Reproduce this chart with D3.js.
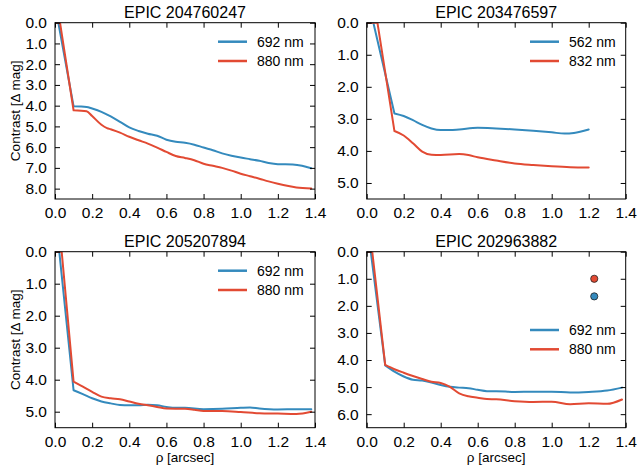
<!DOCTYPE html>
<html><head><meta charset="utf-8">
<script src="https://cdn.jsdelivr.net/npm/d3@7/dist/d3.min.js"></script>
<style>body{margin:0;background:#fff}svg{display:block}text{font-family:"Liberation Sans",Arial,Helvetica,sans-serif;fill:#000}</style>
</head><body><svg id="c" width="639" height="470"></svg>
<script>
const titles = ["EPIC 204760247", "EPIC 203476597", "EPIC 205207894", "EPIC 202963882"];
const legendLabels = [["692 nm","880 nm"],["562 nm","832 nm"],["692 nm","880 nm"],["692 nm","880 nm"]];
const yMax = [8.5, 5.5, 5.5, 6.5];
const yTicks = [[0,1,2,3,4,5,6,7,8],[0,1,2,3,4,5],[0,1,2,3,4,5],[0,1,2,3,4,5,6]];
const xTicks = [0,0.2,0.4,0.6,0.8,1.0,1.2,1.4];

const p1Blue = [[0,0],[0.018,0],[0.10,4.03],[0.17,4.06],[0.2,4.14],[0.25,4.3],[0.3,4.52],[0.35,4.78],[0.4,5.05],[0.45,5.22],[0.5,5.35],[0.55,5.45],[0.6,5.64],[0.65,5.74],[0.7,5.79],[0.75,5.88],[0.8,6.02],[0.85,6.15],[0.9,6.3],[0.95,6.41],[1.0,6.5],[1.05,6.58],[1.1,6.66],[1.15,6.76],[1.2,6.82],[1.28,6.84],[1.33,6.9],[1.38,7.02]];
const p1Red = [[0,0],[0.027,0],[0.10,4.22],[0.17,4.27],[0.2,4.5],[0.25,4.92],[0.28,5.08],[0.3,5.14],[0.35,5.3],[0.4,5.5],[0.45,5.67],[0.5,5.83],[0.55,6.02],[0.6,6.23],[0.65,6.43],[0.7,6.52],[0.75,6.63],[0.8,6.8],[0.85,6.9],[0.9,7.0],[0.95,7.13],[1.0,7.28],[1.05,7.4],[1.1,7.52],[1.15,7.65],[1.2,7.76],[1.25,7.86],[1.3,7.94],[1.38,7.99]];
const p2Blue = [[0,0],[0.036,0],[0.15,2.83],[0.2,2.91],[0.25,3.04],[0.3,3.19],[0.35,3.3],[0.4,3.35],[0.45,3.35],[0.5,3.33],[0.6,3.28],[0.7,3.3],[0.8,3.33],[0.9,3.37],[1.0,3.42],[1.07,3.46],[1.12,3.44],[1.2,3.33]];
const p2Red = [[0,0],[0.058,0],[0.15,3.38],[0.2,3.52],[0.25,3.76],[0.3,4.02],[0.35,4.12],[0.4,4.13],[0.5,4.1],[0.55,4.13],[0.6,4.2],[0.7,4.3],[0.8,4.39],[0.9,4.44],[1.0,4.48],[1.1,4.51],[1.2,4.52]];
const p3Blue = [[0,0],[0.023,0],[0.10,4.33],[0.15,4.45],[0.2,4.58],[0.25,4.68],[0.3,4.74],[0.35,4.79],[0.4,4.8],[0.45,4.8],[0.5,4.78],[0.55,4.8],[0.6,4.85],[0.65,4.88],[0.7,4.88],[0.8,4.92],[0.9,4.91],[1.0,4.88],[1.05,4.87],[1.1,4.9],[1.2,4.93],[1.3,4.92],[1.38,4.92]];
const p3Red = [[0,0],[0.036,0],[0.10,4.06],[0.15,4.22],[0.2,4.38],[0.25,4.53],[0.3,4.58],[0.35,4.61],[0.4,4.68],[0.45,4.75],[0.5,4.8],[0.55,4.85],[0.6,4.9],[0.7,4.91],[0.75,4.94],[0.8,4.98],[0.9,4.98],[1.0,5.01],[1.1,5.05],[1.2,5.06],[1.3,5.07],[1.38,5.0]];
const p4Blue = [[0,0],[0.022,0],[0.10,4.2],[0.15,4.43],[0.2,4.61],[0.25,4.73],[0.3,4.76],[0.35,4.83],[0.4,4.92],[0.45,4.99],[0.5,5.02],[0.55,5.04],[0.6,5.1],[0.65,5.15],[0.7,5.15],[0.8,5.18],[0.9,5.17],[1.0,5.17],[1.1,5.2],[1.2,5.18],[1.3,5.13],[1.38,5.02]];
const p4Red = [[0,0],[0.03,0],[0.10,4.18],[0.15,4.34],[0.2,4.47],[0.25,4.59],[0.3,4.7],[0.35,4.8],[0.4,4.85],[0.45,4.99],[0.5,5.23],[0.55,5.34],[0.6,5.39],[0.65,5.44],[0.7,5.45],[0.8,5.52],[0.9,5.55],[1.0,5.54],[1.1,5.63],[1.2,5.6],[1.3,5.62],[1.38,5.46]];
const p4Dots = [[1.23,1.0,"red"],[1.23,1.65,"blue"]];

const seriesBlue = [p1Blue, p2Blue, p3Blue, p4Blue];
const seriesRed = [p1Red, p2Red, p3Red, p4Red];
const colors = {blue:"#348ABD", red:"#E24A33"};

const boxes = [
  {l:55, r:315, t:22.7, b:199},
  {l:366.7, r:625.7, t:22.7, b:199},
  {l:55, r:315, t:251.7, b:427.7},
  {l:366.7, r:625.7, t:251.7, b:427.7}
];
const legendPos = [{x:218,y:41.7},{x:530,y:41.7},{x:218,y:270.7},{x:530,y:330}];

const svg = d3.select("#c");
const defs = svg.append("defs");

boxes.forEach((bx,i)=>{
  const x = d3.scaleLinear().domain([0,1.4]).range([bx.l,bx.r]);
  const y = d3.scaleLinear().domain([0,yMax[i]]).range([bx.t,bx.b]);
  const g = svg.append("g");
  defs.append("clipPath").attr("id","clip"+i).append("rect")
    .attr("x",bx.l).attr("y",bx.t).attr("width",bx.r-bx.l).attr("height",bx.b-bx.t);

  const lin = d3.line().x(d=>x(d[0])).y(d=>y(d[1]));
  const smooth = d3.line().x(d=>x(d[0])).y(d=>y(d[1])).curve(d3.curveMonotoneX);
  // steep drop (first 3 points) drawn straight, the rest smooth from the kink on
  const pathD = s => lin(s.slice(0,3)) + smooth(s.slice(2));
  const pg = g.append("g").attr("clip-path","url(#clip"+i+")");
  [[seriesBlue[i],"blue"],[seriesRed[i],"red"]].forEach(([s,c])=>{
    pg.append("path").attr("d",pathD(s)).attr("fill","none").attr("stroke",colors[c])
      .attr("stroke-width",2).attr("stroke-linejoin","round").attr("stroke-linecap","round");
  });
  if(i===3){
    pg.selectAll("circle").data(p4Dots).enter().append("circle")
      .attr("cx",d=>x(d[0])).attr("cy",d=>y(d[1])).attr("r",3.6)
      .attr("fill",d=>colors[d[2]]).attr("stroke","#222").attr("stroke-width",0.8);
  }

  // axes
  const fs = "15.5px";
  const xb = g.append("g").attr("transform",`translate(0,${bx.b})`)
    .call(d3.axisBottom(x).tickValues(xTicks).tickFormat(d3.format(".1f")).tickSizeInner(-5).tickSizeOuter(0).tickPadding(8));
  const xt = g.append("g").attr("transform",`translate(0,${bx.t})`)
    .call(d3.axisTop(x).tickValues(xTicks).tickFormat("").tickSizeInner(-5).tickSizeOuter(0));
  const yl = g.append("g").attr("transform",`translate(${bx.l},0)`)
    .call(d3.axisLeft(y).tickValues(yTicks[i]).tickFormat(d3.format(".1f")).tickSizeInner(-5).tickSizeOuter(0).tickPadding(8));
  const yr = g.append("g").attr("transform",`translate(${bx.r},0)`)
    .call(d3.axisRight(y).tickValues(yTicks[i]).tickFormat("").tickSizeInner(-5).tickSizeOuter(0));
  [xb,xt,yl,yr].forEach(a=>{
    a.select(".domain").remove();
    a.selectAll("line").attr("stroke","#000").attr("stroke-width",1);
    a.selectAll("text").style("font-size",fs).style("font-family",'"Liberation Sans",Arial,sans-serif');
  });
  g.append("rect").attr("x",bx.l).attr("y",bx.t).attr("width",bx.r-bx.l).attr("height",bx.b-bx.t)
    .attr("fill","none").attr("stroke","#000").attr("stroke-width",1);

  // title
  g.append("text").attr("x",(bx.l+bx.r)/2).attr("y",bx.t-5).attr("text-anchor","middle")
    .style("font-size","16px").text(titles[i]);

  // legend
  const lp = legendPos[i];
  [["blue",0],["red",1]].forEach(([c,k])=>{
    const yy = lp.y + k*19.3;
    g.append("line").attr("x1",lp.x).attr("x2",lp.x+29).attr("y1",yy).attr("y2",yy)
      .attr("stroke",colors[c]).attr("stroke-width",2.5);
    g.append("text").attr("x",lp.x+39).attr("y",yy).attr("dy","0.35em")
      .style("font-size","14px").text(legendLabels[i][k]);
  });

  if(i%2===0){
    g.append("text").attr("transform",`translate(15,${(bx.t+bx.b)/2}) rotate(-90)`)
      .attr("text-anchor","middle").attr("dy","0.35em").style("font-size","13.5px").text("Contrast [Δ mag]");
  }
  if(i>=2){
    g.append("text").attr("x",(bx.l+bx.r)/2).attr("y",462).attr("text-anchor","middle")
      .style("font-size","13.5px").text("ρ [arcsec]");
  }
});
</script></body></html>
